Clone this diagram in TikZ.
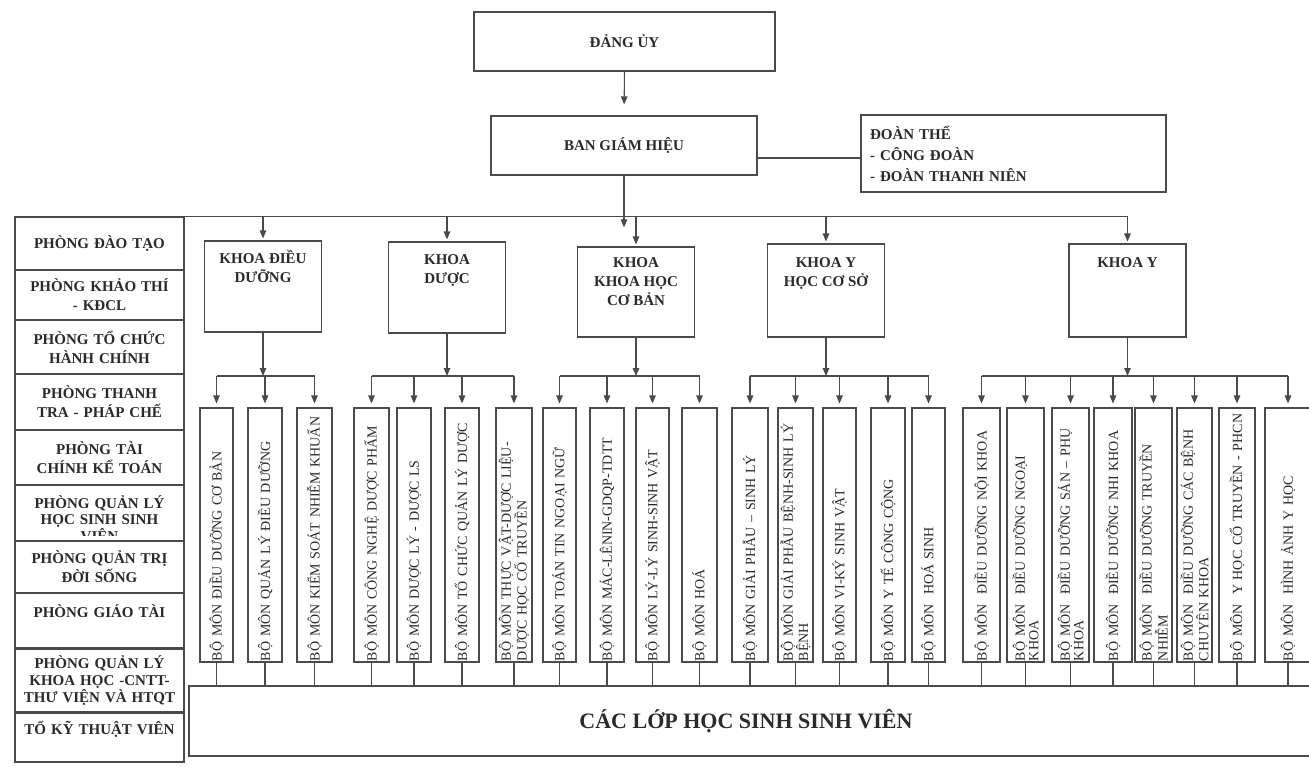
\documentclass[tikz,border=0pt]{standalone}
\usepackage{fontspec}
\setmainfont{Liberation Serif}
\usetikzlibrary{arrows.meta}
\definecolor{lncol}{HTML}{4A4A4A}
\definecolor{txtcol}{HTML}{2A2A2A}
\newcommand{\hdfont}{\fontsize{15}{19}\selectfont\bfseries}
\newcommand{\bmfont}{\fontsize{14}{13.5}\selectfont}
\tikzset{
  boxline/.style={draw=lncol, line width=1.1pt, inner sep=0pt},
  hd/.style={font=\hdfont, text=txtcol, align=center, inner sep=0pt},
  arr/.style={draw=lncol, line width=1.1pt, -{Triangle[length=8pt,width=6.5pt]}, shorten >=2pt},
  ln/.style={draw=lncol, line width=1.1pt},
  lrow/.style={boxline, minimum width=169pt, text width=165pt, align=center, font=\hdfont, text=txtcol},
  bmbox/.style={boxline, rotate=90, minimum height=#1, inner xsep=1pt, inner ysep=0pt, text width=252pt, align=left, font=\bmfont, text=txtcol},
  kbox/.style={boxline, minimum width=117pt},
}
\newcommand{\lrownode}[4]{\node[lrow, minimum height={#3-#2}] (#1) at (99.5,{(#2+#3)/2}) {#4};}
\newcommand{\bmnode}[4]{\node[bmbox={#3-#2}] (#1) at ({(#2+#3)/2},535) {#4};}
\begin{document}
\begin{tikzpicture}[x=1pt,y=-1pt]
\useasboundingbox (0,0) rectangle (1309,766);
\clip (0,0) rectangle (1309,766);
\fill[white] (0,0) rectangle (1309,766);

% top
\node[boxline, hd, minimum width=301pt, minimum height=59pt] (du) at (624.5,41.5) {ĐẢNG ỦY};
\node[boxline, hd, minimum width=266pt, minimum height=59pt] (bgh) at (624,145.5) {BAN GIÁM HIỆU};
\node[boxline, hd, font=\fontsize{15}{21}\selectfont\bfseries, minimum height=77pt, text width=287pt, align=left, inner xsep=9pt] (dt) at (1013.5,153.5) {ĐOÀN THỂ\\- CÔNG ĐOÀN\\- ĐOÀN THANH NIÊN};
\draw[arr, shorten >=11pt] (du.south) -- (bgh.north);
\coordinate (dtl) at ([yshift=-4.5pt]dt.west);
\draw[ln] (bgh.east |- dtl) -- (dtl);

% left column
\lrownode{r1}{217}{270}{PHÒNG ĐÀO TẠO}
\lrownode{r2}{270}{320}{PHÒNG KHẢO THÍ\\- KĐCL}
\lrownode{r3}{320}{374}{PHÒNG TỔ CHỨC\\HÀNH CHÍNH}
\lrownode{r4}{374}{430}{PHÒNG THANH\\TRA - PHÁP CHẾ}
\lrownode{r5}{430}{485}{PHÒNG TÀI\\CHÍNH KẾ TOÁN}
\lrownode{r6}{485}{541}{}
\lrownode{r7}{541}{593}{PHÒNG QUẢN TRỊ\\ĐỜI SỐNG}
\lrownode{r8}{593}{648}{PHÒNG GIÁO TÀI\\\mbox{}}
\node[lrow, font=\fontsize{15}{17}\selectfont\bfseries, minimum height=64pt] (r9) at (99.5,681) {PHÒNG QUẢN LÝ\\KHOA HỌC -CNTT-\\THƯ VIỆN VÀ HTQT};
\lrownode{r10}{712}{762}{TỔ KỸ THUẬT VIÊN\\\mbox{}}
\begin{scope}
\clip ([yshift=-1pt]r6.north west) rectangle ([yshift=6pt]r6.south east);
\node[hd, font=\fontsize{15}{16.5}\selectfont\bfseries, text width=165pt] (r6t) at ([yshift=-5.5pt]r6.center) {PHÒNG QUẢN LÝ\\HỌC SINH SINH\\VIÊN};
\end{scope}

% khoa boxes
\node[kbox, minimum height=91pt] (kdd) at (263,286.5) {};
\node[kbox, minimum height=91pt] (kdc) at (447,287.5) {};
\node[kbox, minimum height=90pt] (kcb) at (636,292) {};
\node[kbox, minimum height=93pt] (kcs) at (826,290.5) {};
\node[kbox, minimum height=93pt] (ky) at (1127.5,290.5) {};
\node[hd, anchor=north] (kddt) at ([yshift=-9pt]kdd.north) {\rule{0pt}{14pt}KHOA ĐIỀU\\DƯỠNG};
\node[hd, anchor=north] (kdct) at ([yshift=-9pt]kdc.north) {\rule{0pt}{14pt}KHOA\\DƯỢC};
\node[hd, anchor=north] (kcbt) at ([yshift=-7pt]kcb.north) {\rule{0pt}{14pt}KHOA\\KHOA HỌC\\CƠ BẢN};
\node[hd, anchor=north] (kcst) at ([yshift=-10pt]kcs.north) {\rule{0pt}{14pt}KHOA Y\\HỌC CƠ SỞ};
\node[hd, anchor=north] (kyt) at ([yshift=-10pt]ky.north) {\rule{0pt}{14pt}KHOA Y};

% main bus
\draw[ln] (r1.north) -- (ky.north |- r1.north);
\coordinate (bghend) at ([yshift=-11pt]bgh.south |- r1.north);
\draw[arr, shorten >=0pt] (bgh.south) -- (bghend);
\foreach \k in {kdd,kdc,kcb,kcs,ky} \draw[arr] (\k.north |- r1.north) -- (\k.north);

% bottom box
\node[boxline, minimum width=1141pt, minimum height=70pt] (bot) at (759.5,721) {};
\node[hd, font=\fontsize{22}{26}\selectfont\bfseries] (bott) at (746,721) {CÁC LỚP HỌC SINH SINH VIÊN};

% bo mon boxes
\bmnode{b1}{200}{233}{BỘ MÔN ĐIỀU DƯỠNG CƠ BẢN}
\bmnode{b2}{248}{282}{BỘ MÔN QUẢN LÝ ĐIỀU DƯỠNG}
\bmnode{b3}{297}{332}{BỘ MÔN KIỂM SOÁT NHIỄM KHUẨN}
\bmnode{b4}{354}{389}{BỘ MÔN CÔNG NGHỆ DƯỢC PHẨM}
\bmnode{b5}{397}{431}{BỘ MÔN DƯỢC LÝ - DƯỢC LS}
\bmnode{b6}{445}{479}{BỘ MÔN TỔ CHỨC QUẢN LÝ DƯỢC}
\bmnode{b7}{496}{532}{BỘ MÔN THỰC VẬT-DƯỢC LIỆU-\\DƯỢC HỌC CỔ TRUYỀN}
\bmnode{b8}{543}{576}{BỘ MÔN TOÁN TIN NGOẠI NGỮ}
\bmnode{b9}{590}{624}{BỘ MÔN MÁC-LÊNIN-GDQP-TDTT}
\bmnode{b10}{636}{669}{BỘ MÔN LÝ-LÝ SINH-SINH VẬT}
\bmnode{b11}{682}{717}{BỘ MÔN HOÁ}
\bmnode{b12}{732}{768}{BỘ MÔN GIẢI PHẪU – SINH LÝ}
\bmnode{b13}{778}{813}{BỘ MÔN GIẢI PHẪU BỆNH-SINH LÝ\\BỆNH}
\bmnode{b14}{823}{856}{BỘ MÔN VI-KÝ SINH VẬT}
\bmnode{b15}{871}{905}{BỘ MÔN Y TẾ CÔNG CỘNG}
\bmnode{b16}{912}{945}{BỘ MÔN\ \ HOÁ SINH}
\bmnode{b17}{963}{1000}{BỘ MÔN\ \ ĐIỀU DƯỠNG NỘI KHOA}
\bmnode{b18}{1007}{1044}{BỘ MÔN\ \ ĐIỀU DƯỠNG NGOẠI\\KHOA}
\bmnode{b19}{1052}{1089}{BỘ MÔN\ \ ĐIỀU DƯỠNG SẢN – PHỤ\\KHOA}
\bmnode{b20}{1094}{1132}{BỘ MÔN\ \ ĐIỀU DƯỠNG NHI KHOA}
\bmnode{b21}{1135}{1172}{BỘ MÔN\ \ ĐIỀU DƯỠNG TRUYỀN\\NHIỄM}
\bmnode{b22}{1177}{1212}{BỘ MÔN\ \ ĐIỀU DƯỠNG CÁC BỆNH\\CHUYÊN KHOA}
\bmnode{b23}{1219}{1255}{\mbox{BỘ MÔN\ \ Y HỌC CỔ TRUYỀN - PHCN}}
\bmnode{b24}{1265}{1311}{BỘ MÔN\ \ HÌNH ẢNH Y HỌC}

% sub buses
\coordinate (sb) at (0,376);
\foreach \k in {kdd,kdc,kcb,kcs,ky} \draw[arr, shorten >=0pt] (\k.south) -- (\k.south |- sb);
\draw[ln] (b1.east |- sb) -- (b3.east |- sb);
\draw[ln] (b4.east |- sb) -- (b7.east |- sb);
\draw[ln] (b8.east |- sb) -- (b11.east |- sb);
\draw[ln] (b12.east |- sb) -- (b16.east |- sb);
\draw[ln] (b17.east |- sb) -- (b24.east |- sb);
\foreach \b in {b1,b2,b3,b4,b5,b6,b7,b8,b9,b10,b11,b12,b13,b14,b15,b16,b17,b18,b19,b20,b21,b22,b23,b24} {
  \draw[arr, shorten >=4pt] (\b.east |- sb) -- (\b.east);
  \draw[ln] (\b.west) -- (\b.west |- bot.north);
}
\end{tikzpicture}
\end{document}
